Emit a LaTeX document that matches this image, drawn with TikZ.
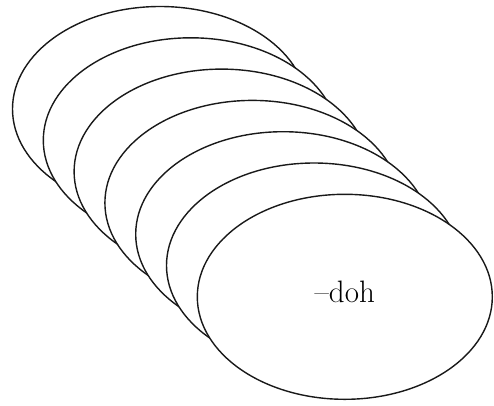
\documentclass[tikz,border=0pt]{standalone}
\usepackage{tikz}
\usetikzlibrary{shapes.geometric}

\begin{document}
\begin{tikzpicture}[
    x=1pt, y=-1pt,
    every node/.style={font=\fontsize{31}{36}\selectfont},
    layer/.style={ellipse, draw=black!90, line width=1.4pt, fill=white,
                  minimum width=295pt, minimum height=205pt, inner sep=0pt},
  ]
    \useasboundingbox (0,0) rectangle (494,405);
    \foreach \i in {0,...,6}
      \node[layer] (layer\i) at ({160+30.8*\i},{109+31.3*\i}) {};
    \node[yshift=5pt] (suffix) at (layer6) {--doh};
\end{tikzpicture}
\end{document}
